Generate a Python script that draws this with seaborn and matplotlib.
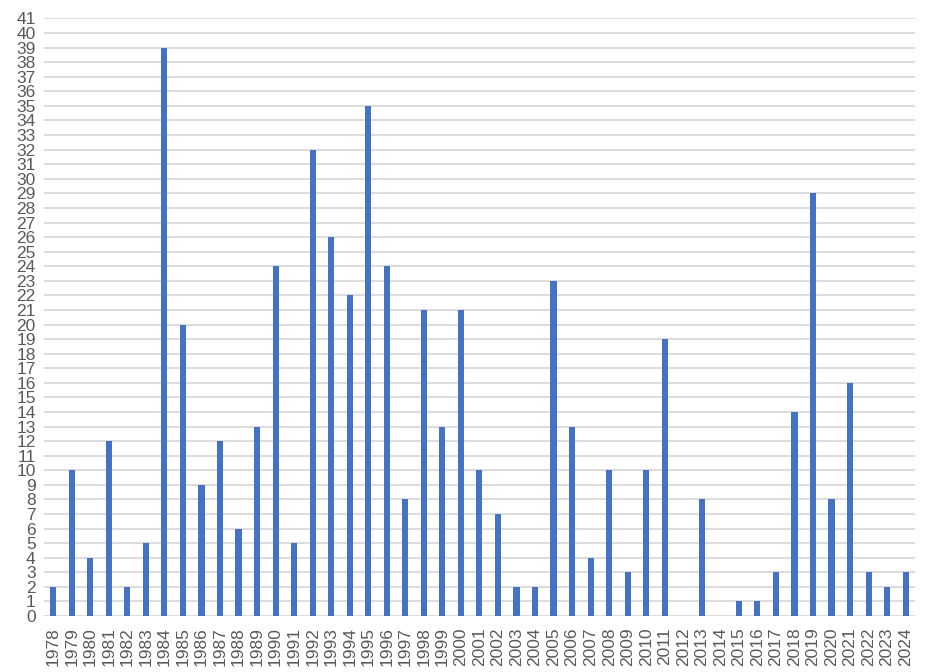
import pandas as pd
import matplotlib
matplotlib.use("Agg")
import matplotlib.pyplot as plt
import seaborn as sns

years = list(range(1978, 2025))
counts = [2, 10, 4, 12, 2, 5, 39, 20, 9, 12, 6, 13, 24, 5, 32, 26, 22, 35, 24, 8,
          21, 13, 21, 10, 7, 2, 2, 23, 13, 4, 10, 3, 10, 19, 0, 8, 0, 1, 1, 3,
          14, 29, 8, 16, 3, 2, 3]

df = pd.DataFrame({"year": [str(y) for y in years], "count": counts})

sns.set_style("white")
plt.rcParams['font.family'] = ['Liberation Sans', 'DejaVu Sans']

fig = plt.figure(figsize=(9.26, 6.72), dpi=100)
ax = fig.add_axes([0.0475, 0.0833, 0.9405, 0.8892])

sns.barplot(data=df, x="year", y="count", color="#4472C4", width=0.33,
            saturation=1, linewidth=0, ax=ax, zorder=3)

ax.set_ylim(0, 41)
ax.set_xlim(-0.5, len(years) - 0.5)
ax.set_yticks(range(0, 42))
ax.grid(axis="y", color="#D9D9D9", linewidth=1.3, zorder=0)
ax.grid(axis="x", visible=False)
for s in ax.spines.values():
    s.set_visible(False)
ax.tick_params(axis="both", length=0, labelsize=12.5, colors="#595959")
ax.tick_params(axis="y", pad=6)
ax.tick_params(axis="x", rotation=90, pad=8)
ax.set_xlabel("")
ax.set_ylabel("")

fig.savefig("out.png", dpi=100)
